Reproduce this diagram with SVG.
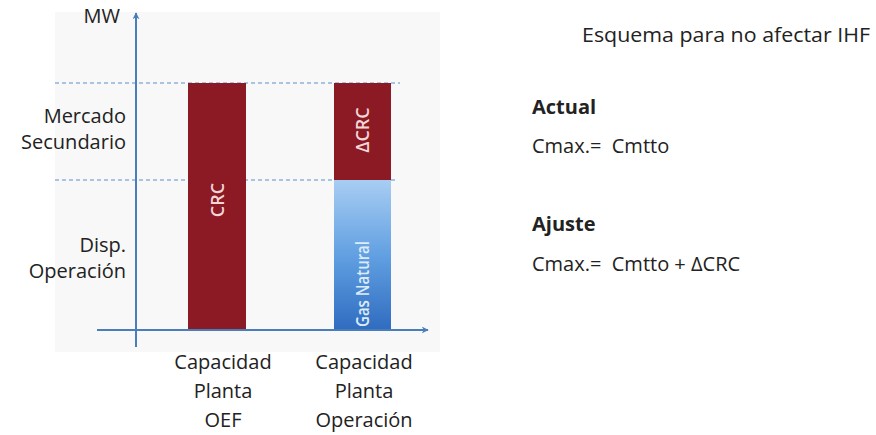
<svg xmlns="http://www.w3.org/2000/svg" width="876" height="435" viewBox="0 0 876 435">
  <defs>
    <linearGradient id="gasGrad" x1="0" y1="0" x2="0" y2="1">
      <stop offset="0" stop-color="#a8cdf2"/>
      <stop offset="0.5" stop-color="#62a0e2"/>
      <stop offset="1" stop-color="#2f6cc0"/>
    </linearGradient>
    <marker id="arrow" viewBox="0 0 10 10" refX="9" refY="5" markerWidth="7" markerHeight="7" orient="auto" markerUnits="userSpaceOnUse">
      <path d="M0,0 L10,5 L0,10 L3,5 z" fill="#4a7ebb"/>
    </marker>
    <style>
      .lbl { font-family: "Open Sans", "Liberation Sans", sans-serif; font-size: 20px; fill: #222; }
      .bold { font-weight: bold; }
      .bar-text { font-family: "Open Sans", "Liberation Sans", sans-serif; font-weight: 600; font-size: 18px; }
      .axis { stroke: #4a7ebb; stroke-width: 2; fill: none; }
      .dash { stroke: #8fb2dc; stroke-width: 1.3; stroke-dasharray: 4 3; fill: none; }
    </style>
  </defs>
  <rect width="876" height="435" fill="#ffffff"/>
  <rect x="55" y="12" width="385" height="340" fill="#f8f8f8"/>

  <g id="guides">
    <line class="dash" x1="55" y1="83" x2="400" y2="83"/>
    <line class="dash" x1="55" y1="180" x2="395" y2="180"/>
  </g>

  <g id="bar-oef">
    <rect x="188" y="83" width="58" height="247" fill="#8b1a24"/>
    <text class="bar-text" fill="#f3d6d8" transform="translate(224,200) rotate(-90)" text-anchor="middle">CRC</text>
  </g>

  <g id="bar-operacion">
    <rect x="334" y="83" width="57" height="97" fill="#8b1a24"/>
    <text class="bar-text" fill="#f3d6d8" transform="translate(369,130) rotate(-90)" text-anchor="middle">ΔCRC</text>
    <rect x="334" y="180" width="57" height="150" fill="url(#gasGrad)"/>
    <text class="bar-text" fill="#dcebf9" transform="translate(369,284) rotate(-90)" text-anchor="middle" font-size="19" textLength="86" lengthAdjust="spacingAndGlyphs">Gas Natural</text>
  </g>

  <g id="connectors">
    <line class="axis" x1="136" y1="347" x2="136" y2="13" marker-end="url(#arrow)"/>
    <line class="axis" x1="97" y1="330" x2="428" y2="330" marker-end="url(#arrow)"/>
  </g>

  <g id="y-labels">
    <text class="lbl" x="120" y="23" text-anchor="end">MW</text>
    <text class="lbl" x="126" y="123" text-anchor="end">Mercado</text>
    <text class="lbl" x="126" y="149" text-anchor="end">Secundario</text>
    <text class="lbl" x="126" y="252" text-anchor="end">Disp.</text>
    <text class="lbl" x="126" y="278" text-anchor="end">Operación</text>
  </g>

  <g id="x-label-oef">
    <text class="lbl" x="223" y="369" text-anchor="middle">Capacidad</text>
    <text class="lbl" x="223" y="398" text-anchor="middle">Planta</text>
    <text class="lbl" x="223" y="427" text-anchor="middle">OEF</text>
  </g>

  <g id="x-label-operacion">
    <text class="lbl" x="364" y="369" text-anchor="middle">Capacidad</text>
    <text class="lbl" x="364" y="398" text-anchor="middle">Planta</text>
    <text class="lbl" x="364" y="427" text-anchor="middle">Operación</text>
  </g>

  <g id="notes">
    <text class="lbl" x="582" y="42" textLength="288" lengthAdjust="spacingAndGlyphs">Esquema para no afectar IHF</text>
    <text class="lbl bold" x="532" y="114">Actual</text>
    <text class="lbl" x="532" y="153" xml:space="preserve">Cmax.=  Cmtto</text>
    <text class="lbl bold" x="532" y="231">Ajuste</text>
    <text class="lbl" x="532" y="271" xml:space="preserve">Cmax.=  Cmtto + ΔCRC</text>
  </g>
</svg>
